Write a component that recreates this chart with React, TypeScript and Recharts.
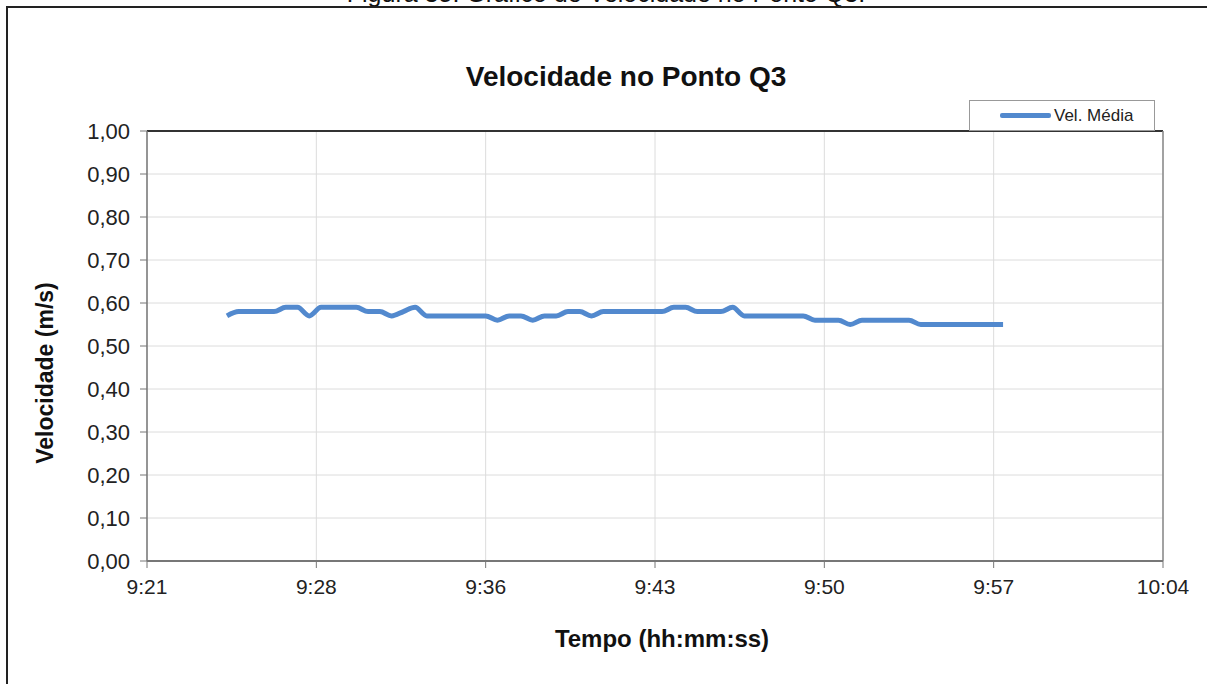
import { LineChart, Line, XAxis, YAxis, CartesianGrid, ReferenceLine } from "recharts";

// measurement times (hh:mm:ss) and mean velocity (m/s)
const times = [
  "9:25:00", "9:25:30", "9:26:00", "9:26:30", "9:27:00", "9:27:30", "9:28:00", "9:28:30",
  "9:29:00", "9:29:30", "9:30:00", "9:30:30", "9:31:00", "9:31:30", "9:32:00", "9:32:30",
  "9:33:00", "9:33:30", "9:34:00", "9:34:30", "9:35:00", "9:35:30", "9:36:00", "9:36:30",
  "9:37:00", "9:37:30", "9:38:00", "9:38:30", "9:39:00", "9:39:30", "9:40:00", "9:40:30",
  "9:41:00", "9:41:30", "9:42:00", "9:42:30", "9:43:00", "9:43:30", "9:44:00", "9:44:30",
  "9:45:00", "9:45:30", "9:46:00", "9:46:30", "9:47:00", "9:47:30", "9:48:00", "9:48:30",
  "9:49:00", "9:49:30", "9:50:00", "9:50:30", "9:51:00", "9:51:30", "9:52:00", "9:52:30",
  "9:53:00", "9:53:30", "9:54:00", "9:54:30", "9:55:00", "9:55:30", "9:56:00", "9:56:30",
  "9:57:00", "9:57:30", "9:58:00",
];
const velMedia = [
  0.57, 0.58, 0.58, 0.58, 0.58, 0.59, 0.59, 0.57,
  0.59, 0.59, 0.59, 0.59, 0.58, 0.58, 0.57, 0.58,
  0.59, 0.57, 0.57, 0.57, 0.57, 0.57, 0.57, 0.56,
  0.57, 0.57, 0.56, 0.57, 0.57, 0.58, 0.58, 0.57,
  0.58, 0.58, 0.58, 0.58, 0.58, 0.58, 0.59, 0.59,
  0.58, 0.58, 0.58, 0.59, 0.57, 0.57, 0.57, 0.57,
  0.57, 0.57, 0.56, 0.56, 0.56, 0.55, 0.56, 0.56,
  0.56, 0.56, 0.56, 0.55, 0.55, 0.55, 0.55, 0.55,
  0.55, 0.55, 0.55,
];

// x ticks in minutes since midnight (Excel steps of 0.005 day)
const xTicks = [561.6, 568.8, 576, 583.2, 590.4, 597.6, 604.8];
const xTickLabels = ["9:21", "9:28", "9:36", "9:43", "9:50", "9:57", "10:04"];
const yTicks = [0, 0.1, 0.2, 0.3, 0.4, 0.5, 0.6, 0.7, 0.8, 0.9, 1.0];

const toMinutes = (s: string) => {
  const [h, m, sec] = s.split(":").map(Number);
  return h * 60 + m + sec / 60;
};

const data = times.map((t, i) => ({ t: toMinutes(t), v: velMedia[i] }));

const FONT = "'Liberation Sans', Arial, sans-serif";
const LINE_COLOR = "#5289CE";

export default function App() {
  return (
    <div
      style={{
        position: "absolute",
        top: 0,
        left: 0,
        width: 1207,
        height: 684,
        overflow: "hidden",
        background: "#fff",
        fontFamily: FONT,
      }}
    >
      {/* figure caption, cut by the page top */}
      <div
        style={{
          position: "absolute",
          top: -21,
          left: 0,
          width: 1212,
          textAlign: "center",
          fontSize: 25,
          color: "#111",
          lineHeight: "28px",
        }}
      >
        Figura 35: Gráfico de Velocidade no Ponto Q3.
      </div>
      {/* frame */}
      <div
        style={{
          position: "absolute",
          top: 6,
          left: 6,
          width: 1300,
          height: 800,
          borderTop: "2px solid #222",
          borderLeft: "2px solid #222",
        }}
      />

      <div style={{ position: "absolute", top: 0, left: 0 }}>
        <LineChart
          width={1207}
          height={684}
          data={data}
          margin={{ top: 131, right: 44, bottom: 93, left: 67 }}
        >
          <CartesianGrid stroke="#dcdcdc" strokeWidth={1} />
          <XAxis
            dataKey="t"
            type="number"
            domain={[561.6, 604.8]}
            ticks={xTicks}
            tickFormatter={(v: number) => xTickLabels[xTicks.indexOf(v)] ?? ""}
            height={30}
            axisLine={{ stroke: "#777", strokeWidth: 2 }}
            tickLine={{ stroke: "#777" }}
            tickSize={7}
            tick={{ fontSize: 21, fill: "#222", fontFamily: FONT, dy: 9 }}
            allowDataOverflow
          />
          <YAxis
            type="number"
            domain={[0, 1]}
            ticks={yTicks}
            interval={0}
            tickFormatter={(v: number) => v.toFixed(2).replace(".", ",")}
            width={80}
            axisLine={{ stroke: "#777", strokeWidth: 1.5 }}
            tickLine={{ stroke: "#777" }}
            tickSize={7}
            tick={{ fontSize: 22, fill: "#222", fontFamily: FONT, dx: -8 }}
          />
          <ReferenceLine y={1} stroke="#333" strokeWidth={2} ifOverflow="visible" />
          <ReferenceLine x={604.8} stroke="#888" strokeWidth={1.5} ifOverflow="visible" />
          <Line
            type="monotone"
            dataKey="v"
            name="Vel. Média"
            stroke={LINE_COLOR}
            strokeWidth={5}
            dot={false}
            isAnimationActive={false}
          />
        </LineChart>
      </div>

      <div
        style={{
          position: "absolute",
          top: 61,
          left: 0,
          width: 1252,
          textAlign: "center",
          fontSize: 28,
          fontWeight: 700,
          color: "#111",
        }}
      >
        Velocidade no Ponto Q3
      </div>
      <div
        style={{
          position: "absolute",
          left: 45,
          top: 373,
          transform: "translate(-50%, -50%) rotate(-90deg)",
          whiteSpace: "nowrap",
          fontSize: 23,
          fontWeight: 700,
          color: "#111",
        }}
      >
        Velocidade (m/s)
      </div>
      <div
        style={{
          position: "absolute",
          top: 625,
          left: 0,
          width: 1324,
          textAlign: "center",
          fontSize: 24,
          fontWeight: 700,
          color: "#111",
        }}
      >
        Tempo (hh:mm:ss)
      </div>

      {/* legend */}
      <div
        style={{
          position: "absolute",
          top: 100,
          left: 969,
          width: 186,
          height: 31,
          border: "1px solid #999",
          background: "#fff",
          boxSizing: "border-box",
          display: "flex",
          alignItems: "center",
        }}
      >
        <span style={{ display: "inline-block", width: 51, height: 5, background: LINE_COLOR, marginLeft: 30, borderRadius: 2 }} />
        <span style={{ fontSize: 17, color: "#222", marginLeft: 3 }}>Vel. Média</span>
      </div>
    </div>
  );
}
